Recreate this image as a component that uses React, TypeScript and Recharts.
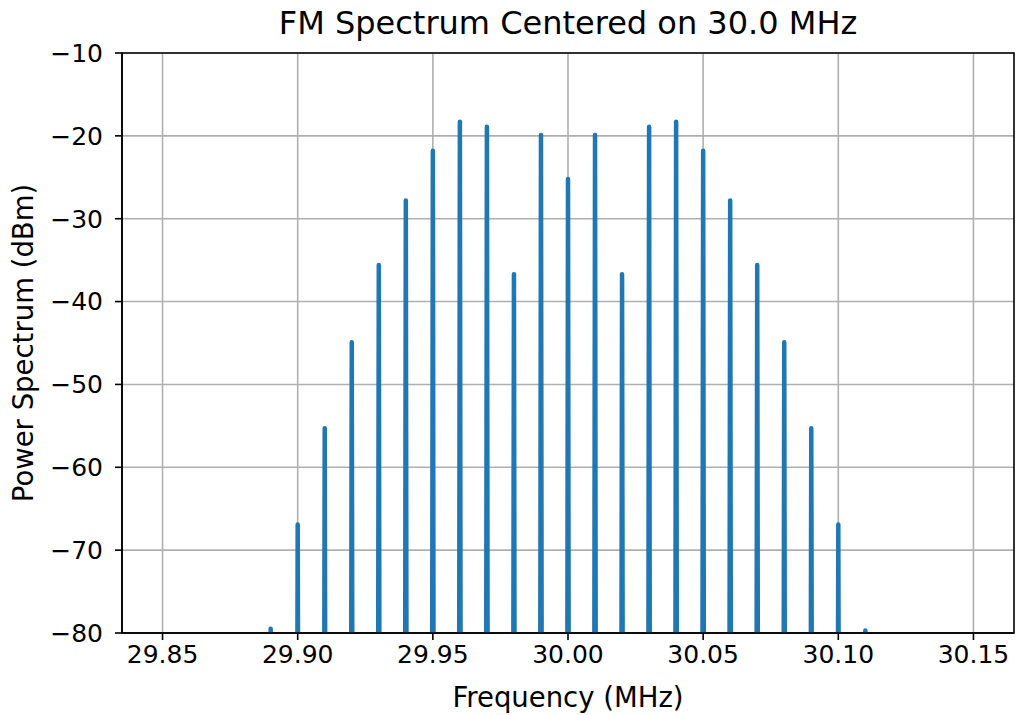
import { LineChart, Line, XAxis, YAxis, CartesianGrid, ReferenceArea, Label } from 'recharts'

// carrier + sidebands, 10 kHz spacing
const freqs = [
  29.89, 29.9, 29.91, 29.92, 29.93, 29.94, 29.95, 29.96, 29.97, 29.98, 29.99, 30.0,
  30.01, 30.02, 30.03, 30.04, 30.05, 30.06, 30.07, 30.08, 30.09, 30.1, 30.11,
]
const peaks = [
  -79.5, -66.9, -55.3, -44.9, -35.6, -27.8, -21.8, -18.3, -18.9, -36.7, -19.9, -25.2,
  -19.9, -36.7, -18.9, -18.3, -21.8, -27.8, -35.6, -44.9, -55.3, -66.9, -79.7,
]
const xTicks = [29.85, 29.9, 29.95, 30.0, 30.05, 30.1, 30.15]
const yTicks = [-80, -70, -60, -50, -40, -30, -20, -10]
const noiseFloor = -120
const binWidth = 0.0004

const spectrum: { f: number; p: number }[] = [{ f: 29.85, p: noiseFloor }]
freqs.forEach((f, i) => {
  spectrum.push({ f: f - binWidth, p: noiseFloor })
  spectrum.push({ f, p: peaks[i] })
  spectrum.push({ f: f + binWidth, p: noiseFloor })
})
spectrum.push({ f: 30.15, p: noiseFloor })

const font = 'DejaVu Sans, sans-serif'
const minus = (v: number) => (v < 0 ? `\u2212${Math.abs(v)}` : `${v}`)

export default function App() {
  return (
    <div style={{ position: 'absolute', left: 0, top: 0, width: 1016, height: 715, background: '#fff', fontFamily: font }}>
      <div style={{ position: 'absolute', top: 4, left: 0, width: 1136, textAlign: 'center', fontSize: 32, color: '#000' }}>
        FM Spectrum Centered on 30.0 MHz
      </div>
      <LineChart width={1016} height={715} data={spectrum} margin={{ top: 53, right: 2, left: 0, bottom: 0 }}>
        <CartesianGrid stroke="#b0b0b0" strokeWidth={1.6} horizontalValues={yTicks} verticalValues={xTicks} />
        <XAxis
          dataKey="f"
          type="number"
          domain={[29.835, 30.165]}
          ticks={xTicks}
          allowDataOverflow
          height={82}
          tickFormatter={(v: number) => v.toFixed(2)}
          tick={{ fill: '#000', fontSize: 25, fontFamily: font }}
          tickSize={7}
          tickMargin={5}
          stroke="#000"
          strokeWidth={1.6}
        >
          <Label value="Frequency (MHz)" position="insideBottom" offset={8} style={{ fill: '#000', fontSize: 27.5, fontFamily: font }} />
        </XAxis>
        <YAxis
          type="number"
          domain={[-80, -10]}
          ticks={yTicks}
          allowDataOverflow
          width={122}
          tickFormatter={minus}
          tick={{ fill: '#000', fontSize: 25, fontFamily: font }}
          tickSize={7}
          tickMargin={12}
          stroke="#000"
          strokeWidth={1.6}
        >
          <Label value="Power Spectrum (dBm)" angle={-90} position="insideLeft" offset={23} style={{ fill: '#000', fontSize: 27.5, fontFamily: font, textAnchor: 'middle' }} />
        </YAxis>
        <ReferenceArea x1={29.835} x2={30.165} y1={-80} y2={-10} fill="none" stroke="#000" strokeWidth={1.6} ifOverflow="visible" />
        <Line
          type="linear"
          dataKey="p"
          stroke="#1f77b4"
          strokeWidth={4.5}
          strokeLinejoin="round"
          dot={false}
          isAnimationActive={false}
        />
      </LineChart>
    </div>
  )
}
